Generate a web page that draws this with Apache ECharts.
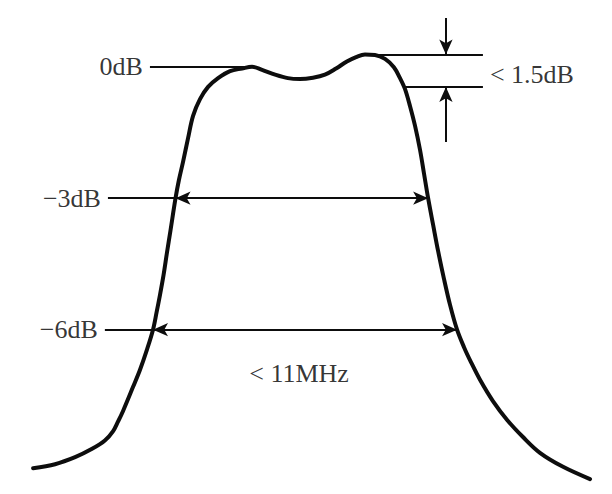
<!DOCTYPE html>
<html>
<head>
<meta charset="utf-8">
<script src="https://cdn.jsdelivr.net/npm/echarts@6/dist/echarts.min.js"></script>
<style>
  html, body { margin: 0; padding: 0; background: #ffffff; }
  #chart { width: 612px; height: 494px; }
</style>
</head>
<body>
<div id="chart"></div>
<script>
// Passband response of the filter (schematic): frequency offset in MHz vs level in dB
const freqOffset = [-9.81, -9.02, -8.30, -7.69, -7.23, -6.94, -6.76, -6.58, -6.22, -5.97,
                    -5.72, -5.50, -5.37, -5.25, -5.12, -5.00, -4.87, -4.69, -4.57, -4.42,
                    -4.24, -4.06, -3.81, -3.52, -3.16, -2.73, -2.30, -1.94, -1.58, -1.11,
                    -0.65, -0.22, 0.25, 0.68, 1.08, 1.47, 1.80, 2.12, 2.48, 2.84,
                    3.16, 3.38, 3.56, 3.74, 3.92, 4.10, 4.24, 4.39, 4.57, 4.75,
                    4.96, 5.18, 5.43, 5.68, 5.93, 6.26, 6.72, 7.23, 7.80, 8.41, 9.24, 10.21];
const response   = [-9.16, -9.07, -8.91, -8.72, -8.53, -8.32, -8.10, -7.86, -7.31, -6.92,
                    -6.46, -6.00, -5.60, -5.21, -4.75, -4.25, -3.73, -3.00, -2.59, -2.17,
                    -1.63, -1.12, -0.74, -0.46, -0.26, -0.10, -0.04, 0.00, -0.07, -0.18,
                    -0.26, -0.28, -0.25, -0.18, -0.04, 0.12, 0.22, 0.28, 0.27, 0.18,
                    -0.01, -0.26, -0.51, -0.90, -1.35, -1.90, -2.43, -3.00, -3.61, -4.21,
                    -4.84, -5.44, -6.00, -6.40, -6.74, -7.15, -7.63, -8.06, -8.45, -8.81, -9.13, -9.41];

// Reference levels with their labels and where the leader lines start
const levelValues = [0, -3, -6];
const levelLabels = ['0dB', '\u22123dB', '\u22126dB'];
const leaderStart = [-5.61, -7.12, -7.23];
// Left / right crossings of each level (the marked bandwidths)
const levelLeft  = [-1.94, -4.69, -5.50];
const levelRight = [null, 4.39, 5.43];

// Passband ripple markers
const rippleTop = 0.28;
const rippleBottom = -0.46;
const rippleTopStart = 2.12;
const rippleBottomStart = 3.54;
const rippleEnd = 6.36;
const rippleArrowX = 5.03;
const rippleArrowOuterTop = 1.11;
const rippleArrowOuterBottom = -1.72;
const rippleLabel = '< 1.5dB';
const rippleLabelPos = [6.61, -0.17];

// Bandwidth note
const bandwidthLabel = '< 11MHz';
const bandwidthLabelPos = [-0.25, -7.01];

const FONT = { fontFamily: '"Liberation Serif", "Times New Roman", serif', fontSize: 26, color: '#000000' };
const INK = '#0d0d0d';

const curveData = freqOffset.map((f, i) => [f, response[i]]);

// Plain leader / extension lines
const plainLines = [];
levelValues.forEach((v, i) => {
  plainLines.push([{ coord: [leaderStart[i], v] }, { coord: [levelLeft[i], v] }]);
});
plainLines.push([{ coord: [rippleTopStart, rippleTop] }, { coord: [rippleEnd, rippleTop] }]);
plainLines.push([{ coord: [rippleBottomStart, rippleBottom] }, { coord: [rippleEnd, rippleBottom] }]);

// Double-headed width arrows and the ripple pointer arrows
const arrowLines = [];
levelValues.forEach((v, i) => {
  if (levelRight[i] !== null) {
    arrowLines.push([
      { coord: [levelLeft[i], v], symbol: 'arrow' },
      { coord: [levelRight[i], v], symbol: 'arrow' }
    ]);
  }
});
arrowLines.push([
  { coord: [rippleArrowX, rippleArrowOuterTop], symbol: 'none' },
  { coord: [rippleArrowX, rippleTop], symbol: 'arrow' }
]);
arrowLines.push([
  { coord: [rippleArrowX, rippleArrowOuterBottom], symbol: 'none' },
  { coord: [rippleArrowX, rippleBottom], symbol: 'arrow' }
]);

// Text labels positioned in data space
const textPoints = levelValues.map((v, i) => ({
  value: [leaderStart[i], v],
  label: { show: true, position: 'left', distance: 7, formatter: levelLabels[i], ...FONT }
}));
textPoints.push({
  value: rippleLabelPos,
  label: { show: true, position: 'right', distance: 0, formatter: rippleLabel, ...FONT }
});
textPoints.push({
  value: bandwidthLabelPos,
  label: { show: true, position: 'inside', formatter: bandwidthLabel, ...FONT }
});

const chart = echarts.init(document.getElementById('chart'), null, { renderer: 'svg' });
chart.setOption({
  animation: false,
  backgroundColor: '#ffffff',
  grid: { left: 0, right: 0, top: 1, height: 493 },
  xAxis: {
    type: 'value', min: -11, max: 11,
    axisLine: { show: false }, axisTick: { show: false },
    axisLabel: { show: false }, splitLine: { show: false }
  },
  yAxis: {
    type: 'value', min: -9.75, max: 1.5,
    axisLine: { show: false }, axisTick: { show: false },
    axisLabel: { show: false }, splitLine: { show: false }
  },
  series: [
    {
      type: 'line',
      data: curveData,
      smooth: 0.35,
      symbol: 'none',
      silent: true,
      lineStyle: { color: INK, width: 4, join: 'round', cap: 'round' },
      z: 3,
      markLine: {
        silent: true,
        symbol: 'none',
        label: { show: false },
        lineStyle: { color: INK, width: 2, type: 'solid' },
        emphasis: { disabled: true },
        data: plainLines
      }
    },
    {
      type: 'line',
      data: [],
      silent: true,
      markLine: {
        silent: true,
        symbolSize: [10, 15],
        label: { show: false },
        lineStyle: { color: INK, width: 2, type: 'solid' },
        itemStyle: { color: INK },
        emphasis: { disabled: true },
        data: arrowLines
      }
    },
    {
      type: 'scatter',
      symbolSize: 0,
      silent: true,
      data: textPoints
    }
  ]
});
</script>
</body>
</html>
